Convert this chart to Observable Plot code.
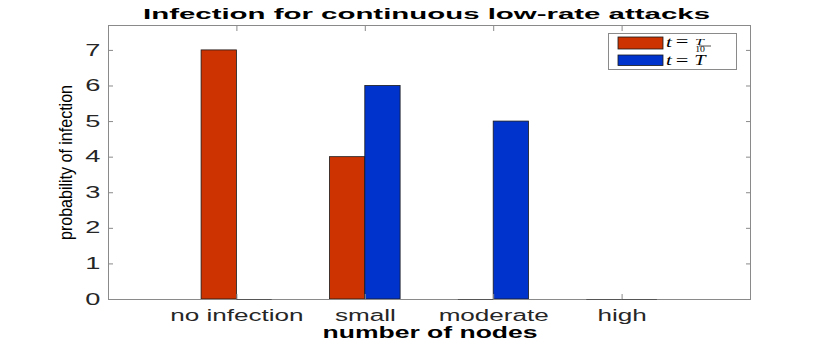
<!DOCTYPE html>
<html>
<head>
<meta charset="utf-8">
<script src="https://cdn.jsdelivr.net/npm/d3@7"></script>
<script src="https://cdn.jsdelivr.net/npm/@observablehq/plot@0.6"></script>
<style>
  body { margin: 0; background: #fff; }
  #chart svg { display: block; }
</style>
</head>
<body>
<div id="chart"></div>
<script>
// ---- data ----
const categories = ["no infection", "small", "moderate", "high"];
const seriesNames = ["t = T/10", "t = T"];
const valuesT10 = [7, 4, 0, 0];
const valuesT = [0, 6, 5, 0];
const yTicks = [0, 1, 2, 3, 4, 5, 6, 7];
const titleText = "Infection for continuous low-rate attacks";
const xLabelText = "number of nodes";
const yLabelText = "probability of infection";

const colors = ["#cc3300", "#0033cc"];
const barW = 0.275; // bar width in category units

const rows = [];
[valuesT10, valuesT].forEach((vals, s) => {
  vals.forEach((v, i) => rows.push({category: categories[i], pos: i + 1, series: s, value: v}));
});

const axisColor = "#8a8a8a";
const sans = "'Liberation Sans', Arial, sans-serif";

const chart = Plot.plot({
  width: 830,
  height: 341,
  marginLeft: 108,
  marginRight: 80,
  marginTop: 25,
  marginBottom: 42,
  style: {fontFamily: sans, background: "#fff", color: "#262626"},
  x: {domain: [0, 5]},
  y: {domain: [0, 7.7]},
  marks: [
    Plot.rectY(rows.filter(d => d.value > 0), {
      x1: d => d.pos + (d.series - 1) * barW,
      x2: d => d.pos + d.series * barW,
      y: "value",
      fill: d => colors[d.series],
      stroke: "#1a1a1a",
      strokeWidth: 0.8
    }),
    Plot.frame({stroke: axisColor, strokeWidth: 1}),
    Plot.ruleY(rows.filter(d => d.value === 0), {
      x1: d => d.pos + (d.series - 1) * barW,
      x2: d => d.pos + d.series * barW,
      y: "value",
      stroke: "#555",
      strokeWidth: 1
    }),
    Plot.axisX({anchor: "bottom", ticks: [1, 2, 3, 4], tickFormat: d => categories[d - 1],
      tickSize: -5, tickPadding: 15, fontSize: 16, stroke: axisColor, label: null}),
    Plot.axisX({anchor: "top", ticks: [1, 2, 3, 4], tickFormat: () => "",
      tickSize: -5, stroke: axisColor, label: null}),
    Plot.axisY({anchor: "left", ticks: yTicks, tickFormat: d => String(d),
      tickSize: -5, tickPadding: 13, fontSize: 16, stroke: axisColor, label: null}),
    Plot.axisY({anchor: "right", ticks: yTicks, tickFormat: () => "",
      tickSize: -5, stroke: axisColor, label: null})
  ]
});

document.getElementById("chart").appendChild(chart);

const svg = d3.select(chart);
function stretch(sel, k) {
  sel.each(function () {
    const L = this.getComputedTextLength();
    d3.select(this).attr("textLength", L * k).attr("lengthAdjust", "spacingAndGlyphs");
  });
}
stretch(svg.selectAll("[aria-label='x-axis tick label'] text").attr("fill", "#262626"), 1.63);
stretch(svg.selectAll("[aria-label='y-axis tick label'] text").attr("fill", "#262626"), 1.7);

// title
svg.append("text")
  .attr("x", 426.5).attr("y", 19)
  .attr("text-anchor", "middle")
  .attr("font-family", sans)
  .attr("font-weight", "bold").attr("font-size", 15)
  .attr("textLength", 567).attr("lengthAdjust", "spacingAndGlyphs")
  .attr("fill", "#000")
  .text(titleText);

// x label
svg.append("text")
  .attr("x", 430).attr("y", 338)
  .attr("text-anchor", "middle")
  .attr("font-family", sans)
  .attr("font-weight", "bold").attr("font-size", 16)
  .attr("textLength", 215).attr("lengthAdjust", "spacingAndGlyphs")
  .attr("fill", "#000")
  .text(xLabelText);

// y label
svg.append("text")
  .attr("transform", "translate(71.5,162.5) rotate(-90)")
  .attr("text-anchor", "middle")
  .attr("font-family", sans)
  .attr("font-size", 18.5)
  .attr("textLength", 155).attr("lengthAdjust", "spacingAndGlyphs")
  .attr("fill", "#000")
  .text(yLabelText);

// legend
const serif = "'Liberation Serif', 'DejaVu Serif', serif";
const lg = svg.append("g").attr("font-family", serif).attr("fill", "#000");
lg.append("rect").attr("x", 608.5).attr("y", 33.5).attr("width", 128).attr("height", 36)
  .attr("fill", "#fff").attr("stroke", "#8a8a8a");
[[37, 12], [55, 10.5]].forEach(([y, h], i) => {
  lg.append("rect").attr("x", 618).attr("y", y).attr("width", 45).attr("height", h)
    .attr("fill", colors[i]).attr("stroke", "#1a1a1a").attr("stroke-width", 0.8);
});
function txt(g, x, y, size, str, sx, italic) {
  return g.append("text").attr("transform", `translate(${x},${y}) scale(${sx},1)`)
    .attr("font-size", size)
    .attr("font-style", italic ? "italic" : "normal")
    .text(str);
}
// row 1: t = T/10
txt(lg, 669, 46.5, 14, "t", 1.5, true);
txt(lg, 682, 47, 16, "=", 1.4, false);
txt(lg, 699.5, 44.5, 8, "T", 2.0, true);
lg.append("line").attr("x1", 699).attr("x2", 711).attr("y1", 46).attr("y2", 46)
  .attr("stroke", "#000").attr("stroke-width", 0.7);
txt(lg, 700, 52, 7.5, "10", 1.3, false);
// row 2: t = T
txt(lg, 669, 65, 14, "t", 1.5, true);
txt(lg, 682, 65.5, 16, "=", 1.4, false);
txt(lg, 700, 65, 14, "T", 1.45, true);
</script>
</body>
</html>
